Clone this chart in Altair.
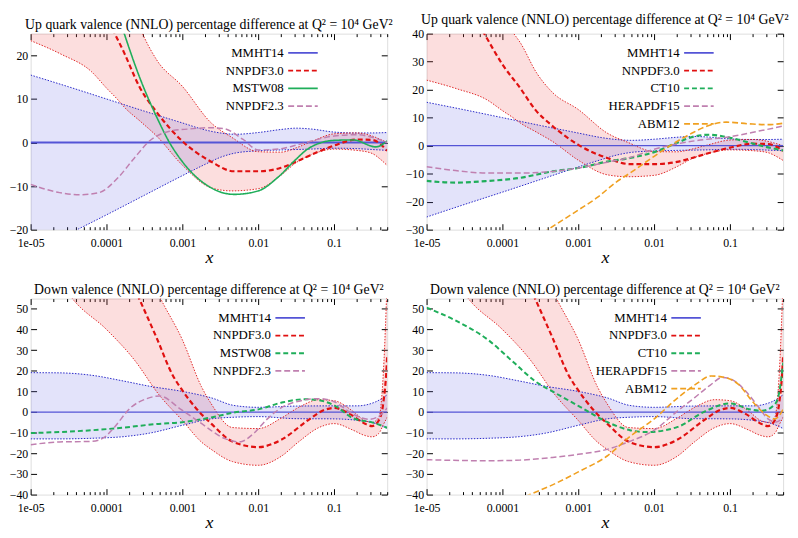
import altair as alt
import pandas as pd

SERIF = "Liberation Serif"
XMIN, XMAX = 1e-5, 0.5
W, H = 362, 199

# ---------------- axis ticks ----------------
X_TICKS = [1e-5, 1e-4, 1e-3, 1e-2, 1e-1]
X_TICK_LABELS = ["1e-05", "0.0001", "0.001", "0.01", "0.1"]
X_MINOR = [m * 10.0 ** e for e in range(-5, 0) for m in range(2, 10) if m * 10.0 ** e <= XMAX]
UV_TICKS_L = [-20, -10, 0, 10, 20]
UV_TICKS_R = [-30, -20, -10, 0, 10, 20, 30, 40]
DV_TICKS = [-40, -30, -20, -10, 0, 10, 20, 30, 40, 50]

TITLE_UV = "Up quark valence (NNLO) percentage difference at Q² = 10⁴ GeV²"
TITLE_DV = "Down valence (NNLO) percentage difference at Q² = 10⁴ GeV²"

# ---------------- data (x given as log10 x) ----------------
# up valence: MMHT14 band
UV_MMHT_L = [-5, -4.5, -4, -3.5, -3, -2.7, -2.5, -2.3, -2, -1.7, -1.5, -1.3, -1, -0.7, -0.5, -0.3]
UV_MMHT_HI = [15.5, 12.8, 10.0, 7.2, 4.5, 2.9, 2.2, 1.9, 2.3, 3.0, 3.3, 3.1, 2.4, 2.2, 2.2, 2.3]
UV_MMHT_LO = [-25.5, -21.0, -16.6, -12.1, -7.6, -5.0, -3.4, -2.4, -1.9, -1.7, -1.6, -1.5, -1.3, -1.4, -1.6, -1.8]
# up valence: NNPDF3.0 band and central
UV_NN_L = [-5, -4.6, -4.2, -4.0, -3.85, -3.77, -3.55, -3.34, -3.0, -2.62, -2.35, -2.0, -1.7, -1.5, -1.3, -1.0, -0.7, -0.5, -0.4, -0.3]
UV_NN_HI = [95, 75, 55, 46, 40, 37, 26, 19, 12.9, 4.5, 1.2, -2.1, -2.2, -1.2, 0.2, 2.0, 2.2, 1.5, 0.8, 0.0]
UV_NN_LO = [23.4, 20.3, 16.3, 12.5, 9.8, 8.2, 4.8, 1.5, -5.2, -10.4, -11.1, -10.6, -7.5, -4.6, -2.8, -1.5, -1.8, -2.5, -3.7, -5.3]
UV_NNC_L = [-5, -4.5, -4.24, -4, -3.77, -3.56, -3.34, -3, -2.62, -2.32, -2, -1.7, -1.5, -1.3, -1, -0.7, -0.5, -0.3]
UV_NNC = [75, 52, 40, 29, 20.7, 12.6, 7.0, 0.3, -4.4, -6.6, -6.6, -5.8, -4.4, -2.8, -0.7, 0.7, 0.6, -1.9]
# up valence: other sets
UV_MSTW_L = [-5, -4.5, -4, -3.77, -3.56, -3.34, -3.17, -3, -2.62, -2.32, -2, -1.73, -1.5, -1.35, -1, -0.75, -0.45, -0.3]
UV_MSTW = [100, 65, 38, 25.2, 14.8, 5.9, 0.0, -4.4, -10.4, -11.9, -11.1, -7.8, -3.8, -1.5, 0.5, 0.6, -1.0, 0.4]
UV_NN23_L = [-5, -4.62, -4.36, -4.1, -3.85, -3.64, -3.43, -3.17, -2.92, -2.62, -2.45, -2.2, -2.0, -1.7, -1.5, -1, -0.7, -0.5, -0.3]
UV_NN23 = [-9.6, -11.5, -12.0, -11.5, -8.1, -3.7, 0.4, 2.6, 3.1, 3.4, 3.2, 0.7, -1.7, -1.4, -0.6, 1.5, 1.8, 1.2, 0.0]
UV_CT10_L = [-5, -4.62, -4.19, -3.77, -3.34, -3, -2.62, -2.32, -2, -1.69, -1.47, -1.27, -1, -0.75, -0.5, -0.3]
UV_CT10 = [-12.6, -13.2, -12.6, -11.5, -9.2, -8.0, -5.7, -4.4, -2.3, 1.1, 3.3, 3.9, 2.8, 1.1, -0.6, -1.7]
UV_HERA_L = [-5, -4.62, -4.19, -3.77, -3.34, -3, -2.62, -2.32, -2, -1.47, -1, -0.62, -0.3]
UV_HERA = [-7.5, -8.9, -9.8, -9.8, -9.2, -8.0, -5.9, -4.2, -1.3, 1.7, 3.2, 5.2, 7.0]
UV_ABM_L = [-5, -4, -3.4, -3, -2.75, -2.5, -2.32, -2, -1.7, -1.5, -1.3, -1.05, -0.75, -0.5, -0.3]
UV_ABM = [-60, -42, -30, -23, -18.5, -13, -9.8, -3.8, 1.5, 4.5, 7.0, 8.4, 7.8, 7.5, 8.0]

# down valence: MMHT14 band
DV_MMHT_L = [-5, -4.62, -4.19, -3.77, -3.43, -3, -2.62, -2.32, -2, -1.5, -1, -0.7, -0.45, -0.3]
DV_MMHT_HI = [19.1, 19.0, 17.8, 15.0, 12.5, 10.0, 6.9, 3.2, 2.3, 2.9, 3.0, 3.0, 5.0, 8.4]
DV_MMHT_LO = [-13.0, -13.0, -12.7, -11.9, -10.2, -6.4, -3.3, -2.5, -2.2, -3.2, -3.3, -4.0, -5.6, -8.0]
# down valence: NNPDF3.0 band and central
DV_NN_L = [-5, -4.45, -4.0, -3.64, -3.3, -3.0, -2.75, -2.62, -2.34, -2.0, -1.7, -1.47, -1.2, -1.0, -0.75, -0.6, -0.5, -0.41, -0.35, -0.3]
DV_NN_HI = [200, 150, 115, 85, 56, 35, 12.4, 4.0, -7.5, -8.0, -3.0, 2.2, 6.0, 5.5, 0.3, -4.0, -5.0, -2.5, 20, 65]
DV_NN_LO = [90, 55, 40, 25.6, 8.0, -4.1, -14.5, -18.1, -24.0, -25.8, -21.5, -14.5, -7.5, -5.6, -8.8, -11.3, -12.0, -10.3, -6.0, -2.5]
DV_NNC_L = [-5, -4, -3.57, -3.34, -3.13, -3, -2.8, -2.62, -2.34, -2, -1.7, -1.35, -1.13, -1.0, -0.79, -0.6, -0.5, -0.41, -0.35, -0.31, -0.3]
DV_NNC = [150, 90, 55, 36, 18, 10.5, 1.0, -5.6, -14.3, -17, -13.5, -4.1, 1.0, 2.0, -1.0, -5.5, -6.8, -4.0, 5.0, 21, 28]
# down valence: other sets
DV_MSTW_L = [-5, -4.19, -3.77, -3.34, -3, -2.62, -2.32, -2, -1.69, -1.4, -1.26, -1, -0.75, -0.5, -0.3]
DV_MSTW = [-10.2, -8.8, -7.5, -5.8, -4.9, -2.6, -0.2, 1.3, 4.6, 6.2, 6.0, 3.3, -3.0, -5.0, -7.6]
DV_NN23_L = [-5, -4.62, -4.19, -4.02, -3.9, -3.68, -3.47, -3.3, -3.02, -2.77, -2.43, -2.25, -2.05, -1.9, -1.7, -1.4, -1.2, -1, -0.75, -0.54, -0.41, -0.3]
DV_NN23 = [-15.8, -14.5, -14.2, -12.0, -7.5, 2.2, 6.5, 7.8, 1.3, -5.0, -13.0, -14.5, -10.0, -4.0, 2.0, 5.8, 6.5, 5.0, -1.0, -3.5, -2.0, 2.0]
DV_CT10_L = [-5, -4.62, -4.19, -3.85, -3.56, -3.34, -3, -2.62, -2.32, -2.1, -1.69, -1.35, -1, -0.75, -0.58, -0.41, -0.35, -0.3]
DV_CT10 = [50.6, 44.4, 35, 24, 14.7, 10, 3.0, -4.8, -8.8, -9.7, -7.2, 0.0, 4.2, 1.4, 0.6, 3.8, 10, 24]
DV_HERA_L = [-5, -4.19, -3.77, -3.34, -3, -2.62, -2.32, -2, -1.69, -1.47, -1.26, -1.1, -0.96, -0.79, -0.62, -0.5, -0.39, -0.3]
DV_HERA = [-23.1, -23.6, -23.3, -22.0, -20.5, -18.1, -14.2, -8.8, 0.6, 6.9, 13.1, 16.8, 15.5, 10, 2.2, -3.3, -4.8, -2.5]
DV_ABM_L = [-5, -4, -3.64, -3.34, -3, -2.62, -2.32, -2, -1.69, -1.45, -1.25, -1.05, -0.88, -0.71, -0.54, -0.41, -0.3]
DV_ABM = [-60, -46, -40, -35.3, -29, -21.3, -11.9, -3.3, 6.9, 13.5, 17.5, 16.6, 13.1, 5.3, -0.9, -3.3, 1.4]

REF_L = [-5, -0.3]
REF_Y = [0, 0]

# ---------------- styles ----------------
C_MMHT = "#5454d6"
C_NN30 = "#e01010"
C_GREEN = "#1fae5a"
C_MAUVE = "#c080b0"
C_ORANGE = "#f0a020"
SOLID = [1, 0]
DASH = [5, 3]
DASH2 = [6, 3]


def band_df(L, lo, hi):
    return pd.DataFrame({"x": [10 ** v for v in L], "lo": lo, "hi": hi})


def line_df(name, L, y, w):
    return pd.DataFrame({"series": name, "x": [10 ** v for v in L], "y": y, "w": w})


label_expr = " : ".join(
    f"datum.value < {t * 3:.6g} ? '{lab}'" for t, lab in zip(X_TICKS[:-1], X_TICK_LABELS[:-1])
) + f" : '{X_TICK_LABELS[-1]}'"


def make_panel(title, ydom, yticks, mmht, nnband, series, legend_x):
    xs = alt.Scale(type="log", domain=[XMIN, XMAX], nice=False)
    ys = alt.Scale(domain=ydom, nice=False, zero=False)

    ax_major = alt.Axis(orient="bottom", values=X_TICKS, labelExpr=label_expr, tickSize=6, offset=-6,
                        domain=False, grid=False, labelPadding=8, labelFont=SERIF, labelFontSize=12,
                        labelColor="black", tickColor="black", labelFlush=False, title="x",
                        titleFont=SERIF, titleFontStyle="italic", titleFontWeight="normal",
                        titleFontSize=18, titlePadding=0, titleColor="black")
    ax_minor = alt.Axis(orient="bottom", values=X_MINOR, labels=False, tickSize=3, offset=-3,
                        domain=False, grid=False, title=None, tickColor="black")
    ax_top = alt.Axis(orient="top", values=X_TICKS, labels=False, tickSize=6, offset=-6,
                      domain=False, grid=False, title=None, tickColor="black")
    ax_top_minor = alt.Axis(orient="top", values=X_MINOR, labels=False, tickSize=3, offset=-3,
                            domain=False, grid=False, title=None, tickColor="black")
    ay_left = alt.Axis(orient="left", values=yticks, tickSize=6, offset=-6, domain=False, grid=False,
                       labelPadding=3, labelFont=SERIF, labelFontSize=12, labelColor="black",
                       tickColor="black", title=None)
    ay_right = alt.Axis(orient="right", values=yticks, labels=False, tickSize=6, offset=-6,
                        domain=False, grid=False, title=None, tickColor="black")

    mm = band_df(*mmht)
    nn = band_df(*nnband)

    nn_area = alt.Chart(nn).mark_area(clip=True, interpolate="monotone", color="#f05050",
                                      opacity=0.19).encode(
        x=alt.X("x:Q", scale=xs, axis=ax_major), y=alt.Y("lo:Q", scale=ys, axis=ay_left), y2="hi:Q")
    mm_area = alt.Chart(mm).mark_area(clip=True, interpolate="monotone", color="#6464e6",
                                      opacity=0.18).encode(
        x=alt.X("x:Q", scale=xs, axis=None), y=alt.Y("lo:Q", scale=ys, axis=None), y2="hi:Q")

    def edge(df, field, color, axx, axy):
        return alt.Chart(df).mark_line(clip=True, interpolate="monotone", color=color, strokeWidth=1,
                                       strokeDash=[1.5, 1.5]).encode(
            x=alt.X("x:Q", scale=xs, axis=axx), y=alt.Y(f"{field}:Q", scale=ys, axis=axy))

    names = [s[0] for s in series]
    colors = [s[3] for s in series]
    dashes = [s[4] for s in series]
    lines = pd.concat([line_df(s[0], s[1], s[2], s[5]) for s in series], ignore_index=True)

    leg = alt.Legend(orient="none", legendX=legend_x, legendY=13, title=None, symbolType="M-3,0H3",
                     symbolSize=100, labelAlign="right",
                     labelOffset=alt.ExprRef("-26"), symbolStrokeWidth=1.8,
                     labelFont=SERIF, labelFontSize=13, labelColor="black", rowPadding=4,
                     labelLimit=200, padding=0)

    line_layer = alt.Chart(lines).mark_line(clip=True, interpolate="monotone").encode(
        x=alt.X("x:Q", scale=xs, axis=None),
        y=alt.Y("y:Q", scale=ys, axis=None),
        color=alt.Color("series:N", scale=alt.Scale(domain=names, range=colors), legend=leg),
        strokeDash=alt.StrokeDash("series:N", scale=alt.Scale(domain=names, range=dashes), legend=leg),
        strokeWidth=alt.StrokeWidth("w:Q", scale=None),
    )

    layers = [
        nn_area,
        mm_area,
        edge(mm, "hi", "#2828c8", ax_minor, None),
        edge(mm, "lo", "#2828c8", ax_top, None),
        edge(nn, "hi", "#e02828", ax_top_minor, None),
        edge(nn, "lo", "#e02828", None, ay_right),
        line_layer,
    ]
    return alt.layer(*layers).resolve_axis(x="independent", y="independent").properties(
        width=W, height=H,
        title=alt.TitleParams(title, font=SERIF, fontSize=14, fontWeight="normal", color="black",
                              offset=1))


p1 = make_panel(TITLE_UV, [-20, 25], UV_TICKS_L, (UV_MMHT_L, UV_MMHT_LO, UV_MMHT_HI),
                (UV_NN_L, UV_NN_LO, UV_NN_HI), [
                    ("MMHT14", REF_L, REF_Y, C_MMHT, SOLID, 2.0),
                    ("NNPDF3.0", UV_NNC_L, UV_NNC, C_NN30, DASH, 2.2),
                    ("MSTW08", UV_MSTW_L, UV_MSTW, C_GREEN, SOLID, 1.6),
                    ("NNPDF2.3", UV_NN23_L, UV_NN23, C_MAUVE, DASH2, 1.5),
                ], 270)
p2 = make_panel(TITLE_UV, [-30, 40], UV_TICKS_R, (UV_MMHT_L, UV_MMHT_LO, UV_MMHT_HI),
                (UV_NN_L, UV_NN_LO, UV_NN_HI), [
                    ("MMHT14", REF_L, REF_Y, C_MMHT, SOLID, 1.3),
                    ("NNPDF3.0", UV_NNC_L, UV_NNC, C_NN30, DASH, 2.2),
                    ("CT10", UV_CT10_L, UV_CT10, C_GREEN, DASH, 2.2),
                    ("HERAPDF15", UV_HERA_L, UV_HERA, C_MAUVE, DASH2, 1.5),
                    ("ABM12", UV_ABM_L, UV_ABM, C_ORANGE, DASH2, 1.6),
                ], 270)
p3 = make_panel(TITLE_DV, [-40, 55], DV_TICKS, (DV_MMHT_L, DV_MMHT_LO, DV_MMHT_HI),
                (DV_NN_L, DV_NN_LO, DV_NN_HI), [
                    ("MMHT14", REF_L, REF_Y, C_MMHT, SOLID, 1.3),
                    ("NNPDF3.0", DV_NNC_L, DV_NNC, C_NN30, DASH, 2.2),
                    ("MSTW08", DV_MSTW_L, DV_MSTW, C_GREEN, DASH, 2.0),
                    ("NNPDF2.3", DV_NN23_L, DV_NN23, C_MAUVE, DASH2, 1.5),
                ], 257)
p4 = make_panel(TITLE_DV, [-40, 55], DV_TICKS, (DV_MMHT_L, DV_MMHT_LO, DV_MMHT_HI),
                (DV_NN_L, DV_NN_LO, DV_NN_HI), [
                    ("MMHT14", REF_L, REF_Y, C_MMHT, SOLID, 1.3),
                    ("NNPDF3.0", DV_NNC_L, DV_NNC, C_NN30, DASH, 2.2),
                    ("CT10", DV_CT10_L, DV_CT10, C_GREEN, DASH, 2.0),
                    ("HERAPDF15", DV_HERA_L, DV_HERA, C_MAUVE, DASH2, 1.5),
                    ("ABM12", DV_ABM_L, DV_ABM, C_ORANGE, DASH2, 1.6),
                ], 257)

chart = alt.concat(p1, p2, p3, p4, columns=2, spacing={"row": 16, "column": 10}).resolve_scale(
    x="independent", y="independent", color="independent", strokeDash="independent"
).resolve_legend(color="independent", strokeDash="independent").properties(
    padding={"left": 0, "top": 0, "right": 0, "bottom": 0}
).configure_view(stroke="black", strokeWidth=1).configure(background="white")

chart.save("out.html", embed_options={"renderer": "svg", "actions": False})
